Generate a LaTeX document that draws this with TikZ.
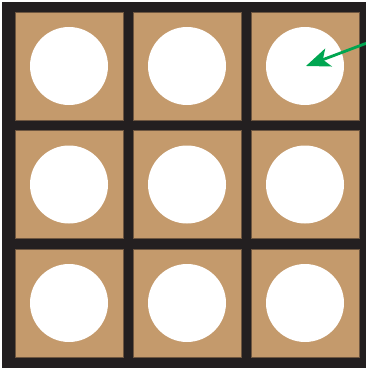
\documentclass[tikz,border=0pt]{standalone}
\usetikzlibrary{arrows.meta}
\definecolor{frame}{HTML}{231F20}
\definecolor{tan}{HTML}{C49A6C}
\definecolor{tanedge}{HTML}{6E5640}
\definecolor{arrowgreen}{HTML}{00A651}
\tikzset{
  cellbox/.style={fill=tan, draw=tanedge, line width=0.6pt},
  hole/.style={circle, fill=white, minimum size=78pt, inner sep=0pt},
  pointer/.style={draw=arrowgreen, line width=2.8pt, -{Stealth[length=24pt, width=19pt, inset=6pt]}}
}
\begin{document}
\begin{tikzpicture}[x=1pt, y=-1pt]
\useasboundingbox (0,0) rectangle (366,369);
\fill[frame] (2,2) rectangle (366,368);
\foreach \r/\y in {1/12, 2/130.5, 3/249} {
  \foreach \c/\x in {1/15, 2/133, 3/251} {
    \draw[cellbox] (\x,\y) rectangle ++(108,108);
    \node[hole] (c\r\c) at (\x+54,\y+54) {};
  }
}
\coordinate (tail) at (367,43);
\draw[pointer] (tail) -- ([xshift=1pt]c13.center);
\end{tikzpicture}
\end{document}
